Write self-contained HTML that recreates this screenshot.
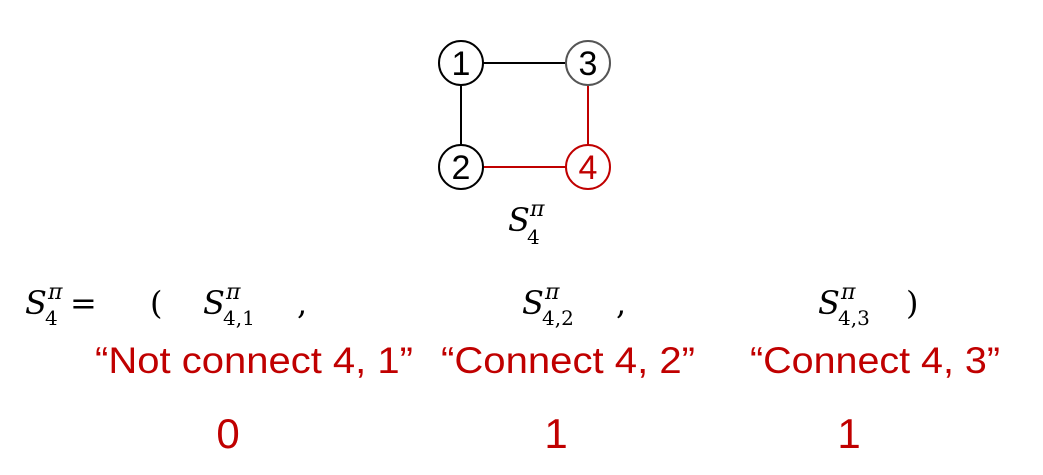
<!DOCTYPE html>
<html><head><meta charset="utf-8"><style>
html,body{margin:0;padding:0;background:#fff;}
svg{display:block;}
.m{font-family:"DejaVu Serif","Liberation Serif",serif;font-style:italic;}
.r{font-family:"Liberation Sans",sans-serif;fill:#c00000;}
</style></head><body>
<svg width="1043" height="475" viewBox="0 0 1043 475" xmlns="http://www.w3.org/2000/svg">
<line x1="483" y1="63" x2="566" y2="63" stroke="#000" stroke-width="2"/>
<line x1="461" y1="85" x2="461" y2="145" stroke="#000" stroke-width="2"/>
<line x1="483" y1="167" x2="566" y2="167" stroke="#c00000" stroke-width="2"/>
<line x1="588" y1="85" x2="588" y2="145" stroke="#c00000" stroke-width="2"/>
<circle cx="461" cy="63" r="22" fill="#fff" stroke="#000" stroke-width="2"/>
<circle cx="588" cy="63" r="22" fill="#fff" stroke="#555" stroke-width="2"/>
<circle cx="461" cy="167" r="22" fill="#fff" stroke="#000" stroke-width="2"/>
<circle cx="588" cy="167" r="22" fill="#fff" stroke="#c00000" stroke-width="2"/>
<g font-family="Liberation Sans,sans-serif" font-size="34" text-anchor="middle">
<text x="461" y="75">1</text><text x="588" y="75">3</text>
<text x="461" y="179">2</text><text x="588" y="179" fill="#c00000">4</text>
</g>
<g class="m">
<text x="508" y="231" font-size="32">S</text><text x="527" y="244" font-size="20" font-style="normal">4</text><text x="530" y="216" font-size="22">π</text>
<text x="25" y="314" font-size="32">S</text><text x="45" y="325" font-size="20" font-style="normal">4</text><text x="48" y="299" font-size="22">π</text>
<text x="70" y="314" font-size="32" font-style="normal">=</text>
<text x="150" y="314" font-size="32" font-style="normal">(</text>
<text x="203" y="314" font-size="32">S</text><text x="223" y="325" font-size="20" font-style="normal">4,1</text><text x="226" y="299" font-size="22">π</text>
<text x="297" y="314" font-size="32" font-style="normal">,</text>
<text x="522" y="314" font-size="32">S</text><text x="542" y="325" font-size="20" font-style="normal">4,2</text><text x="545" y="299" font-size="22">π</text>
<text x="616" y="314" font-size="32" font-style="normal">,</text>
<text x="818" y="314" font-size="32">S</text><text x="838" y="325" font-size="20" font-style="normal">4,3</text><text x="841" y="299" font-size="22">π</text>
<text x="906" y="314" font-size="32" font-style="normal">)</text>
</g>
<g class="r" font-size="37">
<text x="95" y="373" textLength="318" lengthAdjust="spacingAndGlyphs">“Not connect 4, 1”</text>
<text x="441" y="373" textLength="254" lengthAdjust="spacingAndGlyphs">“Connect 4, 2”</text>
<text x="750" y="373" textLength="250" lengthAdjust="spacingAndGlyphs">“Connect 4, 3”</text>
</g>
<g class="r" font-size="42" text-anchor="middle">
<text x="228" y="448">0</text><text x="556" y="448">1</text><text x="849" y="448">1</text>
</g>
</svg>
</body></html>
